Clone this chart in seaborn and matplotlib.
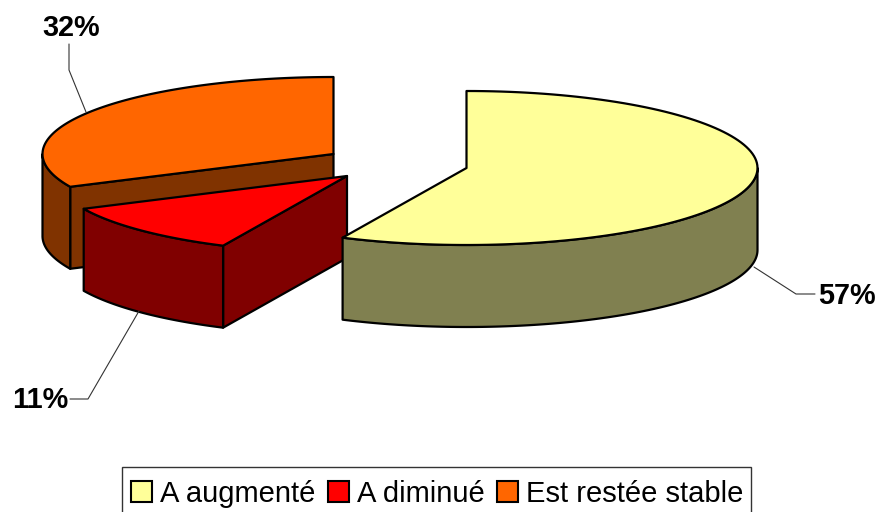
import numpy as np
import seaborn as sns
import matplotlib.pyplot as plt
from matplotlib.patches import Patch, Rectangle

categories = ['A augmenté', 'A diminué', 'Est restée stable']
shares = [57, 11, 32]
pct_labels = ['57%', '11%', '32%']
top_colors = ['#FFFF99', '#FF0000', '#FF6600']
side_colors = ['#808050', '#800000', '#803300']

sns.set_theme(style="white")
plt.rcParams['font.family'] = ['Liberation Sans', 'DejaVu Sans']

# tout est en pixels de l'image
fig = plt.figure(figsize=(8.79, 5.12), dpi=100)
ax = fig.add_axes([0, 0, 1, 1])
ax.set_xlim(0, 879)
ax.set_ylim(512, 0)
ax.axis('off')

RX, RY, DEPTH = 291, 77, 82
# centre de chaque part (explosion)
centers = [(466.5, 168), (347, 176), (333.5, 154)]
# ligne de rappel : debut, coude, fin
leaders = [[(754, 267), (796, 294), (815, 294)],
           [(139, 311), (88, 399), (70, 399)],
           [(86, 112), (69, 70), (69, 44)]]
label_pos = [(847, 296), (40, 400), (71, 28)]


def arc(cx, cy, a0, a1):
    t = np.radians(np.linspace(a0, a1, 120))
    return cx + RX * np.sin(t), cy - RY * np.cos(t)


def draw_slice(i, a0, a1):
    cx, cy = centers[i]
    kw = dict(edgecolor='black', linewidth=1.6, joinstyle='round')
    # face coupee visible vers le spectateur
    if i > 0:
        ex, ey = arc(cx, cy, a0, a0)
        ax.fill([cx, ex[0], ex[0], cx], [cy, ey[0], ey[0] + DEPTH, cy + DEPTH],
                facecolor=side_colors[i], **kw)
    # bord avant
    r0, r1 = max(a0, 90), min(a1, 270)
    if r1 > r0:
        x, y = arc(cx, cy, r0, r1)
        ax.fill(np.r_[x, x[::-1]], np.r_[y, y[::-1] + DEPTH],
                facecolor=side_colors[i], **kw)
    # dessus
    x, y = arc(cx, cy, a0, a1)
    ax.fill(np.r_[cx, x], np.r_[cy, y], facecolor=top_colors[i], **kw)


edges = np.r_[0, np.cumsum(shares)] * 3.6
for i in [2, 1, 0]:
    draw_slice(i, edges[i], edges[i + 1])

for pts, txt, pos in zip(leaders, pct_labels, label_pos):
    ax.plot(*zip(*pts), color='#333333', lw=0.8, zorder=1)
    ax.text(pos[0], pos[1], txt, fontsize=20.8, fontweight='bold', color='black',
            ha='center', va='center')

# cadre de la legende, coupe par le bas de l'image
ax.add_patch(Rectangle((122, 467), 629, 50, facecolor='white', edgecolor='#333333', linewidth=1.0))

handles = [Patch(facecolor=c, edgecolor='black', linewidth=1.5) for c in top_colors]
leg = ax.legend(handles, categories, ncol=3, loc='lower left',
                bbox_to_anchor=(122 / 879, -4.5 / 512), fontsize=21, frameon=False,
                borderaxespad=0, borderpad=0.3,
                handlelength=0.72, handleheight=0.72, handletextpad=0.28, columnspacing=0.42,
                labelcolor='black')

plt.savefig("out.png", dpi=100)
